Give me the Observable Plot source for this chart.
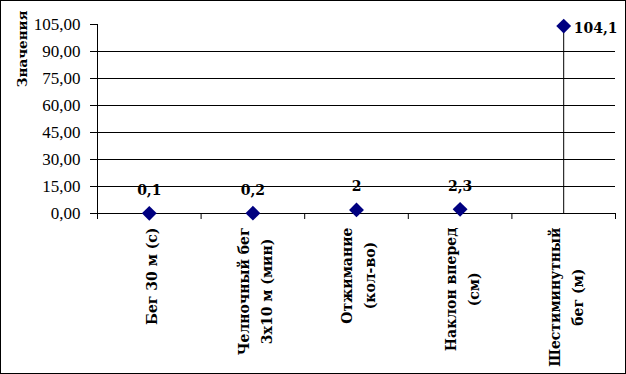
<!DOCTYPE html>
<html><head><meta charset="utf-8">
<script src="https://cdn.jsdelivr.net/npm/d3@7"></script>
<script src="https://cdn.jsdelivr.net/npm/@observablehq/plot@0.6"></script>
<style>
body{margin:0;background:#fff}
#wrap{position:relative;width:626px;height:374px;}
#wrap svg{display:block}
#border{position:absolute;left:0;top:0;width:626px;height:374px;box-sizing:border-box;border:1px solid #000;pointer-events:none}
</style></head><body>
<div id="wrap"><div id="border"></div></div>
<script>
const categories = ["Бег 30 м (с)", "Челночный бег\n3х10 м (мин)", "Отжимание\n(кол-во)", "Наклон вперед\n(см)", "Шестиминутный\nбег (м)"];
const values = [0.1, 0.2, 2, 2.3, 104.1];
const valueLabels = ["0,1", "0,2", "2", "2,3", "104,1"];
const yTicks = [0, 15, 30, 45, 60, 75, 90, 105];
const gridTicks = [15, 30, 45, 60, 75, 90];
const yTitle = "Значения";

const data = categories.map((c, i) => ({cat: c, i, pos: i + 0.5, value: values[i], label: valueLabels[i]}));
const fmt = d => d.toFixed(2).replace(".", ",");
const serif = "'Liberation Serif','Times New Roman',serif";
const slab = "'DejaVu Serif',serif";

const plot = Plot.plot({
  width: 626, height: 374,
  marginLeft: 97, marginRight: 11, marginTop: 24, marginBottom: 161,
  style: {fontFamily: serif, fontSize: "16px", background: "#fff", color: "#000", overflow: "visible"},
  x: {domain: [0, categories.length], axis: null},
  y: {domain: [0, 105], axis: null},
  marks: [
    Plot.ruleY(gridTicks, {stroke: "#000"}),
    Plot.axisY(yTicks, {tickSize: 7, tickPadding: 10, tickFormat: fmt, stroke: "#000", strokeOpacity: 1, label: null, fontSize: 17}),
    Plot.ruleY([0], {stroke: "#000"}),
    Plot.ruleX([0], {y1: 0, y2: 105, stroke: "#000"}),
    Plot.axisX(d3.range(categories.length + 1), {tickSize: 6, tickFormat: () => "", stroke: "#000", strokeOpacity: 1, label: null}),
    Plot.axisX(data.map(d => d.pos), {tickSize: 0, tickPadding: 14, tickFormat: p => categories[Math.floor(p)], tickRotate: -90, textAnchor: "end", lineAnchor: "middle", lineHeight: 1.64, fontFamily: slab, fontSize: 14, fontWeight: "bold", label: null}),
    Plot.ruleX(data, {x: "pos", y1: 0, y2: "value", stroke: "#000"}),
    Plot.dot(data, {x: "pos", y: "value", symbol: "diamond2", r: 6.7, fill: "#000080", stroke: "none"}),
    Plot.text(data.filter(d => d.i < 4), {x: "pos", y: "value", text: "label", lineAnchor: "middle", dy: -23, fill: "#000", fontFamily: slab, fontSize: 14, fontWeight: "bold"}),
    Plot.text(data.filter(d => d.i === 4), {x: "pos", y: "value", text: "label", lineAnchor: "middle", textAnchor: "start", dx: 10, dy: 2, fill: "#000", fontFamily: slab, fontSize: 14, fontWeight: "bold"}),
    Plot.text([yTitle], {frameAnchor: "top-left", rotate: -90, textAnchor: "end", lineAnchor: "middle", dx: -75, dy: -14, fill: "#000", fontFamily: slab, fontSize: 13.5, fontWeight: "bold"})
  ]
});
document.getElementById("wrap").insertBefore(plot, document.getElementById("border"));

// center multi-line rotated category labels around their longest line
plot.querySelectorAll('g[aria-label="x-axis tick label"] text').forEach(t => {
  const w = t.getBBox().width;
  t.setAttribute("text-anchor", "middle");
  t.setAttribute("transform", (t.getAttribute("transform") || "") + ` translate(${-w / 2},0)`);
});
</script>
</body></html>
